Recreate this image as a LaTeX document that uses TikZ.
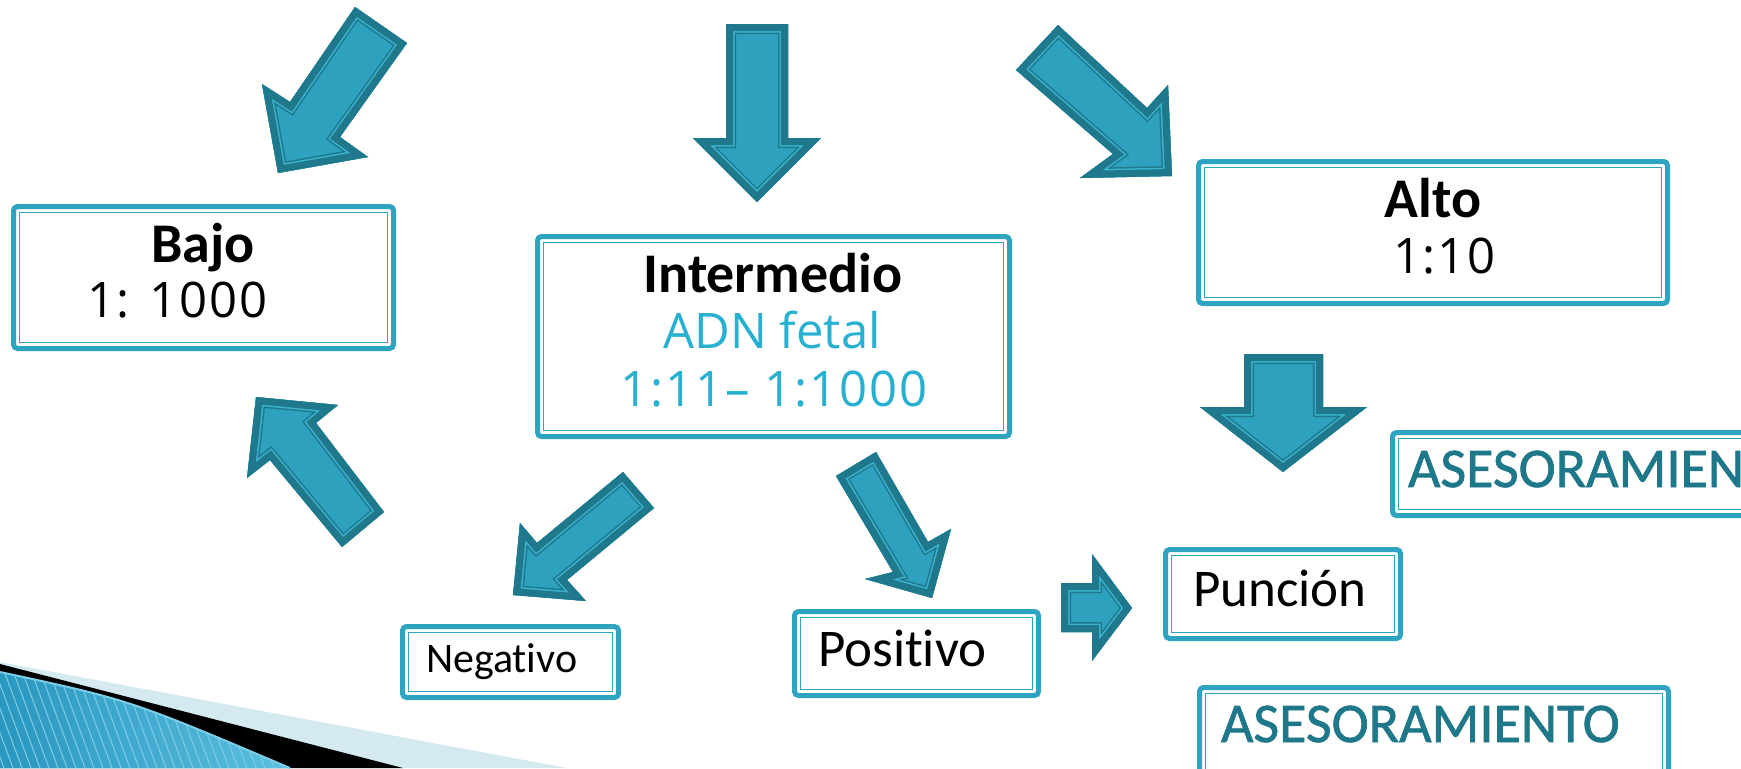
\documentclass[tikz,border=0pt]{standalone}
\usepackage{fontspec}
\setmainfont{Carlito}
\newfontfamily\opens{Open Sans}
\newfontfamily\opensw[LetterSpace=4]{Open Sans}
\newfontfamily\carl[Ligatures=NoCommon]{Carlito}
\newfontfamily\carlb[Ligatures=NoCommon,FakeBold=1.2]{Carlito}
\definecolor{boxc}{HTML}{2EA4C1}
\definecolor{arrfill}{HTML}{2DA1BE}
\definecolor{arrdark}{HTML}{1F788B}
\definecolor{arrlight}{HTML}{3BB3CF}
\definecolor{tealtxt}{HTML}{27B0D0}
\definecolor{asesc}{HTML}{1F7889}
\definecolor{wedgelight}{HTML}{D5E9F1}
\definecolor{wedgeA}{HTML}{2A97BF}
\definecolor{wedgeB}{HTML}{5DC0E0}
\definecolor{stripec}{HTML}{7CCDE8}
\newcommand\fbold{\carl\bfseries\fontsize{28pt}{30pt}\selectfont}
\newcommand\fnum{\opens\fontsize{24.5pt}{27pt}\selectfont}
\newcommand\fnumw{\opensw\fontsize{24.5pt}{27pt}\selectfont}
\newcommand\fneg{\carl\fontsize{21pt}{23pt}\selectfont}
\newcommand\fpos{\carl\fontsize{26.5pt}{28pt}\selectfont}
\newcommand\fases{\carlb\fontsize{28pt}{30pt}\selectfont}
\tikzset{
  tbox/.style={draw=boxc, line width=2.5pt, rounded corners=2pt, fill=white,
    inner sep=0pt, outer sep=0pt, rectangle},
  tinner/.style={draw=boxc, line width=0.8pt},
  lbl/.style={inner sep=0pt, outer sep=0pt, text=black},
}
\newcommand\mkbox[5]{%
  \node[tbox, minimum width={(#4-#2-5)*0.5pt}, minimum height={(#5-#3-5)*0.5pt}]
    (#1) at ({(#2+#4)/2},{(#3+#5)/2}) {};
  \draw[tinner] ([shift={(6,6)}]#1.north west) rectangle ([shift={(-6,-6)}]#1.south east);}
\newcommand\fatarrow[1]{%
  \fill[arrfill] #1 -- cycle;
  \begin{scope}
    \clip #1 -- cycle;
    \draw[arrdark, line width=10pt, line join=miter] #1 -- cycle;
    \draw[arrlight, line width=8.5pt, line join=miter] #1 -- cycle;
    \draw[arrdark, line width=7pt, line join=miter] #1 -- cycle;
  \end{scope}}
\begin{document}
\begin{tikzpicture}[x=0.5pt,y=-0.5pt]
\useasboundingbox (0,0) rectangle (1741,768);
\clip (0,0) rectangle (1741,768);
% bottom-left wedge
\fill[wedgelight] (0,662) -- (567,768) -- (0,768) -- cycle;
\fill[black] (0,664) -- (403,768) -- (0,768) -- cycle;
\begin{scope}
  \clip (0,672) .. controls (130,700) .. (290,768) -- (0,768) -- cycle;
  \shade[left color=wedgeA, right color=wedgeB] (0,660) rectangle (300,768);
  \foreach \i in {-6,...,34} {
    \draw[stripec, line width=0.5pt] ({\i*9},660) -- ({\i*9+40},768);
  }
\end{scope}
\draw[stripec, line width=1pt] (0,672) .. controls (130,700) .. (290,768);
% arrows
\fatarrow{(355,7) -- (407,43) -- (340,137) -- (368,157) -- (278,173) -- (262,84) -- (290,102)}
\fatarrow{(726,24) -- (788,24) -- (788,138) -- (821,138) -- (757,202) -- (693,138) -- (726,138)}
\fatarrow{(1058,25) -- (1147,108) -- (1168,85) -- (1172,176) -- (1080,178) -- (1113,154) -- (1016,70)}
\fatarrow{(1244,354) -- (1323,354) -- (1323,407) -- (1367,407) -- (1283,472) -- (1200,407) -- (1244,407)}
\fatarrow{(256,397) -- (338,405) -- (316,423) -- (384,512) -- (342,547) -- (270,460) -- (247,478)}
\fatarrow{(623,472) -- (654,508) -- (567,580) -- (586,601) -- (513,595) -- (520,523) -- (537,543)}
\fatarrow{(876,452) -- (928,542) -- (951,529) -- (932,598) -- (865,579) -- (893,572) -- (836,476)}
\fatarrow{(1061,583) -- (1092,583) -- (1092,554) -- (1132,608) -- (1092,661) -- (1092,632) -- (1061,632)}
% boxes
\mkbox{bajo}{11}{204}{396}{351}
\mkbox{inter}{535}{234}{1012}{439}
\mkbox{alto}{1196}{159}{1670}{306}
\mkbox{asesa}{1390}{430}{1800}{518}
\mkbox{neg}{400}{624}{621}{700}
\mkbox{pos}{792}{609}{1041}{698}
\mkbox{pun}{1163}{547}{1403}{641}
\mkbox{asesb}{1197}{685}{1671}{830}
% texts
\node[lbl, anchor=base, font=\fbold] (tbajo) at (203,262) {Bajo};
\node[lbl, anchor=base west, font=\fnumw] (nbajo) at (87,317) {1: 1000};
\node[lbl, anchor=base, font=\fbold] (tinter) at (773,292) {Intermedio};
\node[lbl, anchor=base, font=\fnum, text=tealtxt] (adn) at (772,348) {ADN fetal};
\node[lbl, anchor=base, font=\fnumw, text=tealtxt] (rng) at (774,406) {1:11– 1:1000};
\node[lbl, anchor=base, font=\fbold] (talto) at (1433,217) {Alto};
\node[lbl, anchor=base west, font=\fnumw] (nalto) at (1393,273) {1:10};
\node[lbl, anchor=base west, font=\fases, text=asesc] (tasa) at (1408,487) {ASESORAMIEN};
\node[lbl, anchor=base west, font=\fneg] (tneg) at (426,672) {Negativo};
\node[lbl, anchor=base west, font=\fpos] (tpos) at (818,666) {Positivo};
\node[lbl, anchor=base west, font=\fpos] (tpun) at (1193,606) {Punción};
\node[lbl, anchor=base west, font=\fases, text=asesc] (tasb) at (1221,742) {ASESORAMIENTO};
\end{tikzpicture}
\end{document}
